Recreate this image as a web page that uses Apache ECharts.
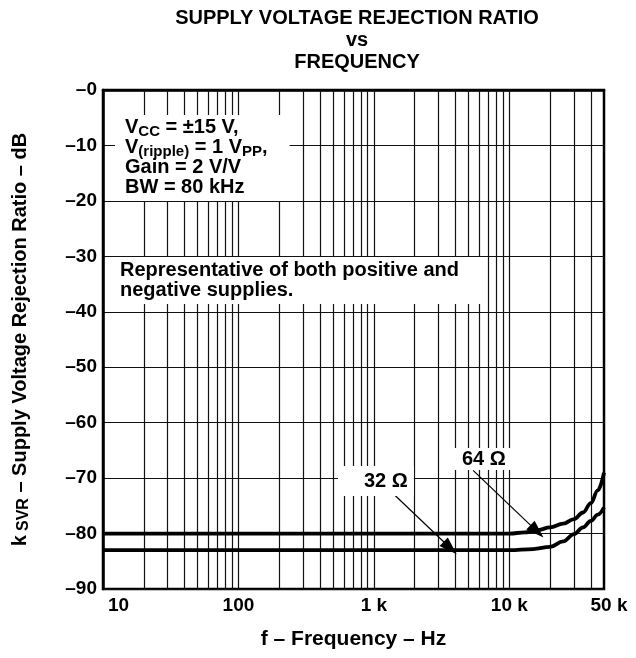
<!DOCTYPE html>
<html>
<head>
<meta charset="utf-8">
<script src="https://cdn.jsdelivr.net/npm/echarts@6/dist/echarts.min.js"></script>
<style>html,body{margin:0;padding:0;background:#fff}#c{width:636px;height:658px}</style>
</head>
<body>
<div id="c"></div>
<script>
// ---- data ----
const freq64 = [10, 100, 1000, 10000, 13000, 16000, 20000, 25000, 30000, 35000, 40000, 45000, 50000];
const ksvr64 = [-80, -80, -80, -80, -79.8, -79.4, -78.9, -78.2, -77.4, -76.2, -74.5, -72.2, -69];
const freq32 = [10, 100, 1000, 10000, 15000, 20000, 25000, 30000, 35000, 40000, 45000, 50000];
const ksvr32 = [-83, -83, -83, -83, -82.8, -82.4, -81.4, -80.1, -78.9, -77.7, -76.6, -75.3];
const gridFreqs = [20,30,40,50,60,70,80,90,100,200,300,400,500,600,700,800,900,1000,
                   2000,3000,4000,5000,6000,7000,8000,9000,10000,20000,30000,40000];
const yTicks = [0,-10,-20,-30,-40,-50,-60,-70,-80,-90];
// annotation arrows (data coords): [start, end]
const arrow64 = [[5400, -68.6], [16000, -79.6]];
const arrow32 = [[1360, -72.6], [3660, -82.6]];

const FONT = '"Liberation Sans", Arial, sans-serif';
const chart = echarts.init(document.getElementById('c'));

function pts(f, v) { return f.map((x, i) => [x, v[i]]); }

chart.setOption({
  animation: false,
  backgroundColor: '#fff',
  title: {
    text: 'SUPPLY VOLTAGE REJECTION RATIO\nvs\nFREQUENCY',
    left: 352, top: 2, textAlign: 'center',
    textStyle: { fontFamily: FONT, fontWeight: 'bold', fontSize: 20, lineHeight: 22, color: '#000' }
  },
  grid: { left: 103, right: 32, top: 90, bottom: 69, show: true, borderColor: '#000', borderWidth: 2.5 },
  xAxis: {
    type: 'log', logBase: 10, min: 10, max: 50000,
    name: 'f – Frequency – Hz', nameLocation: 'middle', nameGap: 40,
    nameTextStyle: { fontFamily: FONT, fontWeight: 'bold', fontSize: 21, color: '#000' },
    axisLine: { lineStyle: { color: '#000', width: 2.5 } },
    axisTick: { show: false }, splitLine: { show: false }, minorTick: { show: false },
    axisLabel: {
      fontFamily: FONT, fontWeight: 'bold', fontSize: 19, color: '#000', margin: 7,
      showMinLabel: true, showMaxLabel: true, alignMinLabel: 'left',
      formatter: v => {
        const r = Math.round(v);
        if (r === 10) return '{first|10}';
        if (r === 50000) return '{last|50 k}';
        return r >= 1000 ? (r / 1000) + ' k' : String(r);
      },
      rich: {
        first: { fontFamily: FONT, fontWeight: 'bold', fontSize: 19, color: '#000', padding: [0, 0, 0, 5] },
        last: { fontFamily: FONT, fontWeight: 'bold', fontSize: 19, color: '#000', padding: [0, 0, 0, 10] }
      }
    }
  },
  yAxis: {
    type: 'value', min: -90, max: 0, interval: 10,
    name: 'k{sub|SVR} – Supply Voltage Rejection Ratio – dB', nameLocation: 'middle', nameGap: 71,
    nameTextStyle: {
      fontFamily: FONT, fontWeight: 'bold', fontSize: 20, color: '#000',
      rich: { sub: { fontFamily: FONT, fontWeight: 'bold', fontSize: 16, padding: [8, 0, 0, 4] } }
    },
    axisLine: { lineStyle: { color: '#000', width: 2.5 } },
    axisTick: { show: false },
    splitLine: { show: true, lineStyle: { color: '#111', width: 1.2 } },
    axisLabel: {
      fontFamily: FONT, fontWeight: 'bold', fontSize: 19, color: '#000', margin: 6,
      formatter: v => '–' + Math.abs(v)
    }
  },
  series: [
    {
      type: 'line', data: [], silent: true,
      markLine: {
        silent: true, symbol: 'none', animation: false,
        label: { show: false },
        lineStyle: { color: '#111', width: 1.2, type: 'solid' },
        data: gridFreqs.map(f => ({ xAxis: f }))
      }
    },
    {
      name: '64 Ω', type: 'line', data: pts(freq64, ksvr64), smooth: 0.4, smoothMonotone: 'x',
      symbol: 'none', lineStyle: { color: '#000', width: 3.8 }, z: 5,
      markLine: {
        silent: true, symbol: ['none', 'triangle'], symbolSize: [12, 18], animation: false,
        label: { show: false }, lineStyle: { color: '#000', width: 1.2, type: 'solid' },
        data: [[{ coord: arrow64[0] }, { coord: arrow64[1] }]]
      }
    },
    {
      name: '32 Ω', type: 'line', data: pts(freq32, ksvr32), smooth: 0.4, smoothMonotone: 'x',
      symbol: 'none', lineStyle: { color: '#000', width: 3.8 }, z: 5,
      markLine: {
        silent: true, symbol: ['none', 'triangle'], symbolSize: [12, 18], animation: false,
        label: { show: false }, lineStyle: { color: '#000', width: 1.2, type: 'solid' },
        data: [[{ coord: arrow32[0] }, { coord: arrow32[1] }]]
      }
    }
  ],
  graphic: [
    {
      type: 'text', left: 115, top: 115, z: 10,
      style: {
        text: 'V{s|CC} = ±15 V,\nV{s|(ripple)} = 1 V{s|PP},\nGain = 2 V/V\nBW = 80 kHz',
        font: 'bold 20px ' + FONT, fill: '#000', lineHeight: 20,
        backgroundColor: '#fff', padding: [2, 22, 4, 10],
        rich: { s: { font: 'bold 15px ' + FONT, fill: '#000', padding: [9, 0, 0, 0], lineHeight: 20 } }
      }
    },
    {
      type: 'text', left: 113, top: 257, z: 10,
      style: {
        text: 'Representative of both positive and\nnegative supplies.',
        font: 'bold 20px ' + FONT, fill: '#000', lineHeight: 20,
        backgroundColor: '#fff', padding: [3, 28, 4, 7]
      }
    },
    {
      type: 'text', left: 440, top: 448, z: 10,
      style: { text: '64 Ω', font: 'bold 20px ' + FONT, fill: '#000', backgroundColor: '#fff', padding: [1, 8, 1, 22] }
    },
    {
      type: 'text', left: 338, top: 466, z: 10,
      style: { text: '32 Ω', font: 'bold 20px ' + FONT, fill: '#000', backgroundColor: '#fff', padding: [5, 6, 5, 26] }
    }
  ]
});
</script>
</body>
</html>
